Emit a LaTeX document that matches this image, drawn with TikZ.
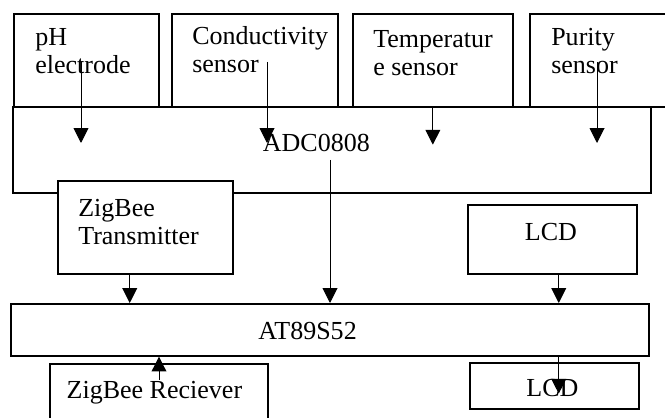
\documentclass[tikz,border=0pt]{standalone}
\usepackage{fontspec}
\setmainfont{Liberation Serif}
\usetikzlibrary{arrows.meta}

\begin{document}
\begin{tikzpicture}[>={Triangle[length=10.5pt,width=10.5pt]},
                box/.style={draw,line width=1.2pt,fill=white,inner sep=0pt,anchor=north west},
                lbl/.style={inner sep=0pt,align=left,font=\fontsize{18.5}{20}\selectfont}]
                \useasboundingbox (0,0) rectangle (16.625,10.45);
                \node[box,minimum width=15.95cm,minimum height=2.15cm] (adc) at (0.3,7.8) {};
                \node[box,minimum width=3.625cm,minimum height=2.325cm] (ph) at (0.325,10.125) {};
                \node[box,minimum width=4.15cm,minimum height=2.325cm] (cond) at (4.275,10.125) {};
                \node[box,minimum width=4cm,minimum height=2.325cm] (temp) at (8.8,10.125) {};
                \node[box,minimum width=3.6cm,minimum height=2.325cm] (pur) at (13.225,10.125) {};
                \node[box,minimum width=4.375cm,minimum height=2.325cm] (tx) at (1.425,5.95) {};
                \node[box,minimum width=4.225cm,minimum height=1.725cm] (lcdin) at (11.675,5.35) {};
                \node[box,minimum width=15.95cm,minimum height=1.3cm] (mcu) at (0.25,2.875) {};
                \node[box,minimum width=5.45cm,minimum height=1.7cm] (rx) at (1.225,1.375) {};
                \node[box,minimum width=4.225cm,minimum height=1.15cm] (lcdout) at (11.725,1.4) {};
                \node[lbl,anchor=base west] (phtxt) at (0.875,8.6) {pH\\electrode};
                \node[lbl,anchor=base west] (condtxt) at (4.8,8.625) {Conductivity\\sensor};
                \node[lbl,anchor=base west] (temptxt) at (9.325,8.55) {Temperatur\\e sensor};
                \node[lbl,anchor=base west] (purtxt) at (13.775,8.6) {Purity\\sensor};
                \node[lbl,anchor=base] (adctxt) at (7.91,6.65) {ADC0808};
                \node[lbl,anchor=base west] (txtxt) at (1.95,4.325) {ZigBee\\Transmitter};
                \node[lbl,anchor=base] (lcdintxt) at (13.775,4.425) {LCD};
                \node[lbl,anchor=base] (mcutxt) at (7.69,1.95) {AT89S52};
                \node[lbl,anchor=base] (rxtxt) at (3.86,0.475) {ZigBee Reciever};
                \node[lbl,anchor=base] (lcdouttxt) at (13.81,0.525) {LCD};
                \coordinate (phout) at (2.025,8.9);
                \coordinate (condout) at (6.675,8.9);
                \coordinate (purout) at (14.925,8.9);
                \coordinate (adcout) at (8.25,6.45);
                \coordinate (txout) at ([xshift=-0.39cm]tx.south);
                \coordinate (lcdinout) at ([xshift=0.16cm]lcdin.south);
                \coordinate (rxout) at (3.975,0.95);
                \draw[->,line width=0.7pt] (phout) -- ++(0,-2.025);
                \draw[->,line width=0.7pt] (condout) -- ++(0,-2.025);
                \draw[->,line width=0.7pt] (temp.south) -- ++(0,-0.925);
                \draw[->,line width=0.7pt] (purout) -- ++(0,-2.025);
                \draw[->,line width=0.7pt] (adcout) -- (adcout |- mcu.north);
                \draw[->,line width=0.7pt] (txout) -- (txout |- mcu.north);
                \draw[->,line width=0.7pt] (lcdinout) -- (lcdinout |- mcu.north);
                \draw[->,line width=0.7pt] (rxout) -- (rxout |- mcu.south);
                \draw[->,line width=0.7pt] (lcdinout |- mcu.south) -- ++(0,-0.925);
\end{tikzpicture}
\end{document}
